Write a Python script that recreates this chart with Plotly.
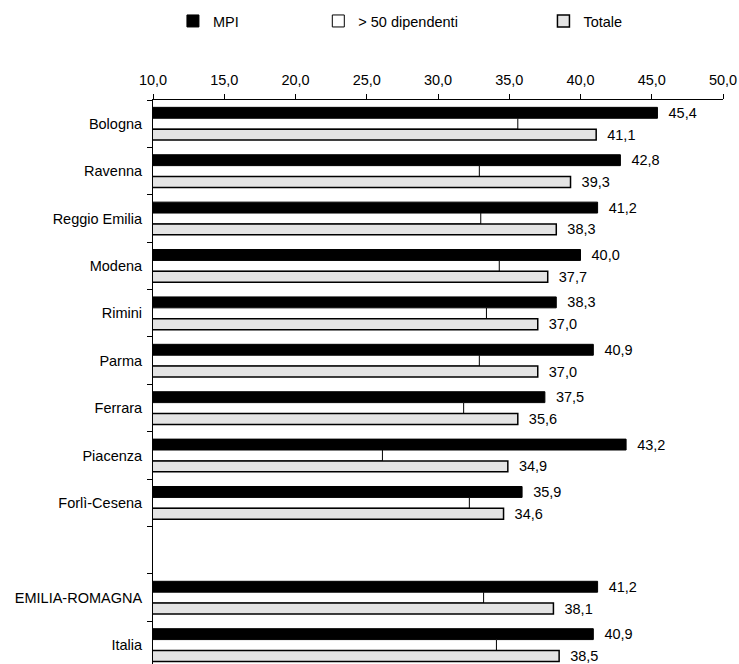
import plotly.graph_objects as go

# Province / aggregate labels (a blank slot separates the provinces from the totals)
categories = ["Bologna", "Ravenna", "Reggio Emilia", "Modena", "Rimini", "Parma",
              "Ferrara", "Piacenza", "Forlì-Cesena", " ", "EMILIA-ROMAGNA", "Italia"]

mpi = [45.4, 42.8, 41.2, 40.0, 38.3, 40.9, 37.5, 43.2, 35.9, None, 41.2, 40.9]
oltre_50 = [35.6, 32.9, 33.0, 34.3, 33.4, 32.9, 31.8, 26.1, 32.2, None, 33.2, 34.1]
totale = [41.1, 39.3, 38.3, 37.7, 37.0, 37.0, 35.6, 34.9, 34.6, None, 38.1, 38.5]

x_ticks = [10, 15, 20, 25, 30, 35, 40, 45, 50]

FONT = "Liberation Sans Narrow, Arial Narrow, Liberation Sans, Arial, sans-serif"
SIZE = 14.5

fig = go.Figure()

fig.add_trace(go.Bar(
    name="MPI", y=categories, x=mpi, orientation="h",
    marker=dict(color="#000000", line=dict(color="#000000", width=1)),
    texttemplate="  %{x:.1f}", textposition="outside", constraintext="none",
    cliponaxis=False, textfont=dict(size=SIZE, color="#000000", family=FONT),
    legend="legend", showlegend=True,
))
fig.add_trace(go.Bar(
    name="> 50 dipendenti", y=categories, x=oltre_50, orientation="h",
    marker=dict(color="#ffffff", line=dict(color="#000000", width=1)),
    legend="legend2", showlegend=True,
))
fig.add_trace(go.Bar(
    name="Totale", y=categories, x=totale, orientation="h",
    marker=dict(color="#e4e4e4", line=dict(color="#000000", width=1.5)),
    texttemplate="  %{x:.1f}", textposition="outside", constraintext="none",
    cliponaxis=False, textfont=dict(size=SIZE, color="#000000", family=FONT),
    legend="legend3", showlegend=True,
))

legend_common = dict(orientation="h", yanchor="middle", y=1.14, xanchor="left",
                     bgcolor="rgba(0,0,0,0)", font=dict(size=SIZE, family=FONT, color="#000000"),
                     itemwidth=30, tracegroupgap=0, visible=True)

fig.update_layout(
    width=739, height=664,
    margin=dict(l=153, r=16, t=100, b=0),
    paper_bgcolor="white", plot_bgcolor="white",
    separators=",.",
    showlegend=True,
    barmode="group", bargap=0.31, bargroupgap=0,
    font=dict(family=FONT, size=SIZE, color="#000000"),
    legend=dict(x=0.035, **legend_common),
    legend2=dict(x=0.29, **legend_common),
    legend3=dict(x=0.685, **legend_common),
    xaxis=dict(
        side="top", range=[10, 50], tickvals=x_ticks, tickformat=".1f",
        ticks="outside", ticklen=5, tickcolor="#000000",
        showline=True, linecolor="#000000", linewidth=1,
        showgrid=False, zeroline=False, ticklabelstandoff=3,
        tickfont=dict(size=SIZE, family=FONT),
    ),
    yaxis=dict(
        type="category", categoryorder="array", categoryarray=categories,
        range=[11.4, -0.5], tickson="boundaries",
        ticks="outside", ticklen=5, tickcolor="#000000",
        showline=True, linecolor="#000000", linewidth=1,
        showgrid=False, zeroline=False, ticklabelstandoff=7,
        tickfont=dict(size=SIZE, family=FONT),
    ),
)

fig.write_html("out.html")
